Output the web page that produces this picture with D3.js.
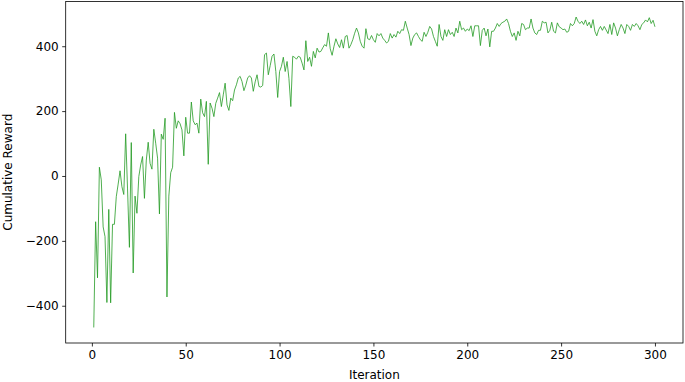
<!DOCTYPE html>
<html>
<head>
<meta charset="utf-8">
<script src="https://cdn.jsdelivr.net/npm/d3@7"></script>
<style>
  html, body { margin: 0; padding: 0; background: #fff; }
  svg { display: block; }
  text { font-family: "DejaVu Sans", sans-serif; fill: #000; }
</style>
</head>
<body>
<svg id="chart" width="685" height="382"></svg>
<script>
// ---- data ----
const rewards = [
  -467, -141, -314, 27, -12, -157, -187, -390, -103, -391,
  -149, -149, -64, -25, 16, -33, -57, 130, -40, -220,
  103, -299, -62, -115, -2, 34, 60, -69, 49, 104,
  39, 21, 144, 101, 55, -117, 129, 113, 178, -373,
  -62, 10, 27, 196, 147, 170, 161, 142, 62, 181,
  132, 132, 228, 170, 158, 163, 132, 237, 195, 183,
  230, 36, 225, 209, 183, 224, 240, 257, 214, 250,
  286, 219, 202, 240, 232, 265, 281, 302, 307, 291,
  263, 280, 302, 309, 302, 261, 290, 312, 276, 274,
  279, 374, 379, 312, 340, 369, 376, 322, 242, 322,
  338, 366, 322, 353, 300, 214, 369, 366, 360, 369,
  366, 348, 327, 417, 353, 366, 338, 384, 364, 394,
  382, 384, 395, 405, 400, 441, 392, 372, 400, 423,
  407, 396, 420, 394, 430, 433, 394, 405, 420, 440,
  456, 441, 415, 400, 394, 454, 423, 420, 433, 420,
  412, 439, 432, 439, 425, 418, 410, 415, 439, 425,
  436, 428, 446, 439, 451, 449, 477, 456, 436, 402,
  425, 436, 441, 430, 420, 415, 443, 430, 443, 461,
  453, 430, 415, 400, 467, 430, 418, 451, 430, 451,
  436, 443, 430, 456, 441, 477, 451, 456, 446, 453,
  448, 463, 430, 463, 463, 463, 402, 449, 456, 432,
  453, 398, 446, 446, 456, 470, 461, 470, 474, 477,
  484, 470, 446, 430, 441, 418, 446, 432, 470, 467,
  451, 456, 456, 484, 456, 441, 436, 449, 449, 477,
  472, 474, 441, 449, 474, 446, 441, 472, 460, 456,
  451, 453, 443, 446, 470, 463, 470, 490, 477, 470,
  477, 467, 481, 463, 474, 456, 482, 446, 432, 451,
  461, 449, 461, 450, 439, 467, 436, 472, 456, 432,
  451, 467, 456, 439, 467, 461, 449, 467, 461, 470,
  463, 451, 467, 472, 481, 475, 488, 470, 480, 460
];
const iterations = rewards.map((_, i) => i + 1);
const xTicks = [0, 50, 100, 150, 200, 250, 300];
const yTicks = [-400, -200, 0, 200, 400];
const xLabel = "Iteration";
const yLabel = "Cumulative Reward";

// ---- layout ----
const svg = d3.select("#chart");
const plot = { left: 65.7, right: 683, top: 1.5, bottom: 343 };

const xExt = d3.extent(iterations);
const xPad = (xExt[1] - xExt[0]) * 0.05;
const yExt = d3.extent(rewards);
const yPad = (yExt[1] - yExt[0]) * 0.05;

const x = d3.scaleLinear().domain([xExt[0] - xPad, xExt[1] + xPad]).range([plot.left, plot.right]);
const y = d3.scaleLinear().domain([yExt[0] - yPad, yExt[1] + yPad]).range([plot.bottom, plot.top]);

const fmt = v => (v < 0 ? "\u2212" + Math.abs(v) : String(v));

// line
const line = d3.line().x((d, i) => x(iterations[i])).y(d => y(d));
svg.append("path")
  .datum(rewards)
  .attr("d", line)
  .attr("fill", "none")
  .attr("stroke", "#239a23")
  .attr("stroke-width", 0.8)
  .attr("stroke-linejoin", "round");

// axes
const xAxis = d3.axisBottom(x).tickValues(xTicks).tickFormat(fmt).tickSize(3.5).tickPadding(3.5);
const yAxis = d3.axisLeft(y).tickValues(yTicks).tickFormat(fmt).tickSize(3.5).tickPadding(3.5);

const gx = svg.append("g").attr("transform", `translate(0,${plot.bottom})`).call(xAxis);
const gy = svg.append("g").attr("transform", `translate(${plot.left},0)`).call(yAxis);
[gx, gy].forEach(g => {
  g.select(".domain").remove();
  g.selectAll(".tick line").attr("stroke", "#000").attr("stroke-width", 0.8);
  g.selectAll(".tick text").attr("font-family", "DejaVu Sans").attr("font-size", 12).attr("fill", "#000");
});

// frame (spines)
svg.append("rect")
  .attr("x", plot.left).attr("y", plot.top)
  .attr("width", plot.right - plot.left).attr("height", plot.bottom - plot.top)
  .attr("fill", "none").attr("stroke", "#000").attr("stroke-width", 0.8);

// labels
svg.append("text")
  .attr("x", (plot.left + plot.right) / 2).attr("y", 379)
  .attr("text-anchor", "middle").attr("font-size", 12)
  .text(xLabel);
svg.append("text")
  .attr("transform", `translate(12,${(plot.top + plot.bottom) / 2}) rotate(-90)`)
  .attr("text-anchor", "middle").attr("font-size", 12)
  .text(yLabel);
</script>
</body>
</html>
